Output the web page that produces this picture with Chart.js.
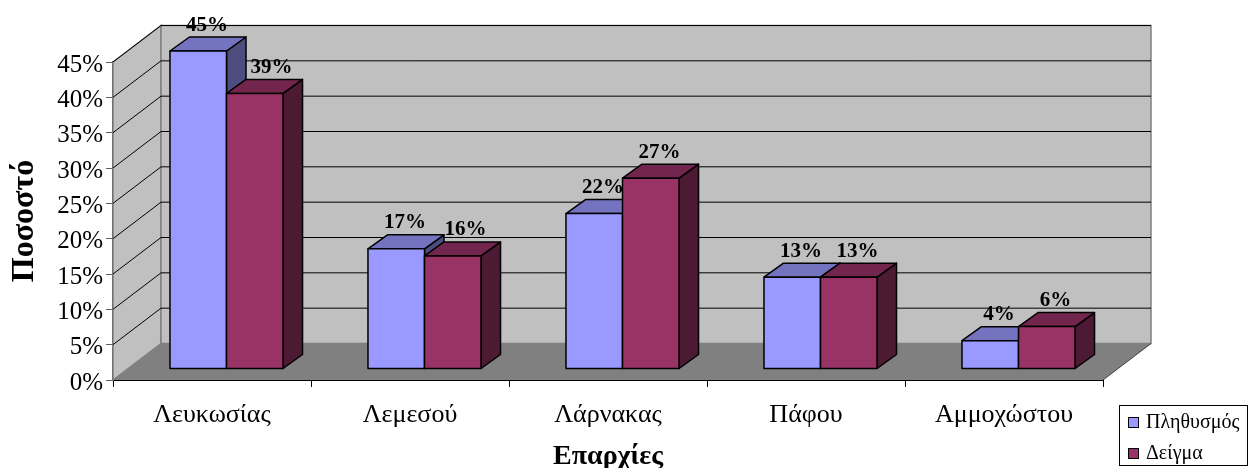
<!DOCTYPE html>
<html>
<head>
<meta charset="utf-8">
<title>Επαρχίες</title>
<script src="https://cdn.jsdelivr.net/npm/chart.js@4/dist/chart.umd.min.js"></script>
<style>
html,body{margin:0;padding:0;background:#fff;overflow:hidden}
canvas{display:block}
</style>
</head>
<body>
<canvas id="chart" width="1248" height="468"></canvas>
<script>
var categories = ['Λευκωσίας','Λεμεσού','Λάρνακας','Πάφου','Αμμοχώστου'];
var populationValues = [45,17,22,13,4];
var sampleValues = [39,16,27,13,6];
var seriesNames = ['Πληθυσμός','Δείγμα'];
var yTicks = [0,5,10,15,20,25,30,35,40,45];

var serif = '"Liberation Serif","Times New Roman",serif';
var WALL = {dx:48, dy:-36.5};      // depth of the whole box
var BAR_SHIFT = {dx:14.5, dy:-11}; // bars stand in the middle of the floor
var BAR_DEPTH = {dx:19.5, dy:-14};
var colors = [
    {front:'#9999FF', top:'#7373BF', side:'#4D4D80'},
    {front:'#993366', top:'#73264D', side:'#4D1A33'}
];
// a few value labels sit off centre in the original
var labelNudge = {'1-0':8, '1-1':4};

function poly(ctx, pts, fill, stroke, lw){
    ctx.beginPath();
    ctx.moveTo(pts[0][0], pts[0][1]);
    for(let i=1; i<pts.length; i++) ctx.lineTo(pts[i][0], pts[i][1]);
    ctx.closePath();
    if(fill){ ctx.fillStyle = fill; ctx.fill(); }
    if(stroke){ ctx.strokeStyle = stroke; ctx.lineWidth = lw || 1; ctx.stroke(); }
}

// walls, floor and the gridlines behind the bars
var boxPlugin = {
    id:'box',
    beforeDatasetsDraw:function(chart){
        let ctx = chart.ctx, a = chart.chartArea, y = chart.scales.y;
        let l = a.left, r = a.right, t = a.top, b = a.bottom, dx = WALL.dx, dy = WALL.dy;
        ctx.save();
        ctx.lineJoin = 'miter';
        poly(ctx, [[l,t],[l+dx,t+dy],[l+dx,b+dy],[l,b]], '#C0C0C0', '#808080', 1.5);
        poly(ctx, [[l+dx,t+dy],[r+dx,t+dy],[r+dx,b+dy],[l+dx,b+dy]], '#C0C0C0', '#808080', 1.5);
        ctx.strokeStyle = '#000';
        ctx.lineWidth = 1;
        for(let i=1; i<yTicks.length; i++){
            let py = y.getPixelForValue(yTicks[i]);
            ctx.beginPath();
            ctx.moveTo(l, py);
            ctx.lineTo(l+dx, py+dy);
            ctx.lineTo(r+dx, py+dy);
            ctx.stroke();
        }
        poly(ctx, [[l,b],[l+dx,b+dy],[r+dx,b+dy],[r,b]], '#808080');
        ctx.strokeStyle = '#404040';
        ctx.lineWidth = 1;
        ctx.beginPath();
        ctx.moveTo(r, b);
        ctx.lineTo(r+dx, b+dy);
        ctx.stroke();
        ctx.restore();
    },
    beforeDatasetDraw:function(){
        return false; // bars are drawn below, first series first
    },
    afterDatasetsDraw:function(chart){
        let ctx = chart.ctx;
        ctx.save();
        ctx.translate(BAR_SHIFT.dx, BAR_SHIFT.dy);
        ctx.lineJoin = 'round';
        for(let d=0; d<chart.data.datasets.length; d++){
            let meta = chart.getDatasetMeta(d), c = colors[d];
            meta.data.forEach(function(el){
                let x0 = el.x-el.width/2, x1 = el.x+el.width/2, ty = el.y, by = el.base;
                let ddx = BAR_DEPTH.dx, ddy = BAR_DEPTH.dy;
                poly(ctx, [[x1,ty],[x1+ddx,ty+ddy],[x1+ddx,by+ddy],[x1,by]], c.side, '#000', 1.5);
                poly(ctx, [[x0,ty],[x0+ddx,ty+ddy],[x1+ddx,ty+ddy],[x1,ty]], c.top, '#000', 1.5);
                el.draw(ctx);
                poly(ctx, [[x0,ty],[x1,ty],[x1,by],[x0,by]], null, '#000', 1.5);
            });
        }
        // value labels over the top face
        ctx.font = 'bold 21px '+serif;
        ctx.fillStyle = '#000';
        ctx.textAlign = 'center';
        ctx.textBaseline = 'alphabetic';
        for(let d=0; d<chart.data.datasets.length; d++){
            let meta = chart.getDatasetMeta(d);
            meta.data.forEach(function(el,i){
                let nudge = labelNudge[d+'-'+i] || 0;
                ctx.fillText(chart.data.datasets[d].data[i]+'%', el.x+BAR_DEPTH.dx/2-1+nudge, el.y+BAR_DEPTH.dy-6.5);
            });
        }
        ctx.restore();
    },
    afterDraw:function(chart){
        let ctx = chart.ctx;
        ctx.save();
        ctx.fillStyle = '#fff';
        ctx.strokeStyle = '#000';
        ctx.lineWidth = 1;
        ctx.fillRect(1119.5,405.5,128,60);
        ctx.strokeRect(1119.5,405.5,128,60);
        ctx.font = '20px '+serif;
        ctx.textBaseline = 'alphabetic';
        ctx.textAlign = 'left';
        for(let i=0; i<seriesNames.length; i++){
            let sy = 417.5+i*31;
            ctx.fillStyle = colors[i].front;
            ctx.fillRect(1128.5,sy,10,10);
            ctx.strokeRect(1128.5,sy,10,10);
            ctx.fillStyle = '#000';
            ctx.fillText(seriesNames[i],1146,sy+10);
        }
        ctx.restore();
    }
};

new Chart(document.getElementById('chart'),{
    type:'bar',
    plugins:[boxPlugin],
    data:{
        labels:categories,
        datasets:[
            {label:seriesNames[0], data:populationValues, backgroundColor:colors[0].front, borderWidth:0},
            {label:seriesNames[1], data:sampleValues, backgroundColor:colors[1].front, borderWidth:0}
        ]
    },
    options:{
        responsive:false,
        animation:false,
        categoryPercentage:0.571,
        barPercentage:1,
        layout:{padding:{left:0,top:62,right:145,bottom:0}},
        plugins:{legend:{display:false},tooltip:{enabled:false},title:{display:false}},
        scales:{
            x:{
                afterFit:function(s){ s.height = 88; },
                grid:{drawOnChartArea:false,tickLength:7,tickColor:'#000',tickWidth:1},
                border:{color:'#000',width:2},
                ticks:{color:'#000',padding:13,maxRotation:0,font:{family:serif,size:26}},
                title:{display:true,text:'Επαρχίες',color:'#000',padding:{top:0,bottom:-6},font:{family:serif,size:28,weight:'bold'}}
            },
            y:{
                min:0,
                max:45,
                afterFit:function(s){ s.width = 113; },
                afterBuildTicks:function(s){ s.ticks = yTicks.map(function(v){ return {value:v}; }); },
                grid:{drawOnChartArea:false,tickLength:7,tickColor:'#606060',tickWidth:1},
                border:{color:'#404040',width:2},
                ticks:{color:'#000',padding:3,labelOffset:3,callback:function(v){ return v+'%'; },font:{family:serif,size:25}},
                title:{display:true,text:'Ποσοστό',color:'#000',padding:{top:6,bottom:0},font:{family:serif,size:32,weight:'bold'}}
            }
        }
    }
});
</script>
</body>
</html>
